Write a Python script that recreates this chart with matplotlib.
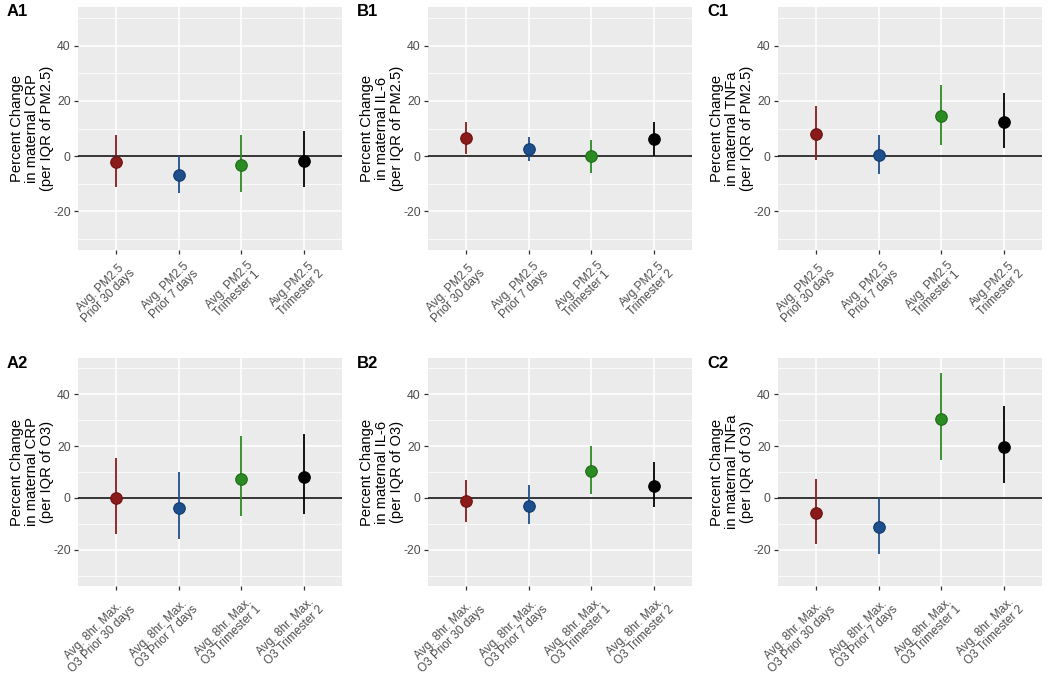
import matplotlib
matplotlib.use("Agg")
import matplotlib.pyplot as plt
import matplotlib.transforms as mtransforms
import numpy as np

plt.rcParams['font.family'] = ['Liberation Sans', 'DejaVu Sans']

# ---- data ----
colors = ["#8B1A1A", "#1C4F8C", "#2A8B22", "#000000"]
edge_colors = ["#6B1010", "#123A6A", "#1E6A18", "#000000"]

pm_labels = ["Avg. PM2.5\nPrior 30 days", "Avg. PM2.5\nPrior 7 days",
             "Avg. PM2.5\nTrimester 1", "Avg.PM2.5\nTrimester 2"]
o3_labels = ["Avg. 8hr. Max.\nO3 Prior 30 days", "Avg. 8hr. Max.\nO3 Prior 7 days",
             "Avg. 8hr. Max.\nO3 Trimester 1", "Avg. 8hr. Max.\nO3 Trimester 2"]

# A1 CRP per PM2.5
a1_est = [-2.2, -6.9, -3.3, -1.7]
a1_lo = [-11.3, -13.3, -13.1, -11.3]
a1_hi = [7.8, 0.0, 7.5, 9.0]
# B1 IL-6 per PM2.5
b1_est = [6.5, 2.4, -0.1, 6.2]
b1_lo = [0.8, -1.9, -6.1, 0.0]
b1_hi = [12.4, 6.8, 5.9, 12.5]
# C1 TNFa per PM2.5
c1_est = [8.0, 0.5, 14.7, 12.5]
c1_lo = [-1.3, -6.3, 4.2, 2.8]
c1_hi = [18.1, 7.5, 25.8, 23.0]
# A2 CRP per O3
a2_est = [-0.1, -3.9, 7.3, 8.0]
a2_lo = [-13.8, -15.9, -7.1, -6.2]
a2_hi = [15.4, 9.9, 23.9, 24.5]
# B2 IL-6 per O3
b2_est = [-1.3, -3.1, 10.3, 4.7]
b2_lo = [-9.2, -10.1, 1.7, -3.4]
b2_hi = [7.0, 4.8, 19.9, 13.8]
# C2 TNFa per O3
c2_est = [-6.0, -11.3, 30.3, 19.6]
c2_lo = [-17.7, -21.8, 14.5, 5.6]
c2_hi = [7.3, 0.0, 48.4, 35.4]

panels = [
    ("A1", "Percent Change\nin maternal CRP\n(per IQR of PM2.5)", pm_labels, a1_est, a1_lo, a1_hi),
    ("B1", "Percent Change\nin maternal IL-6\n(per IQR of PM2.5)", pm_labels, b1_est, b1_lo, b1_hi),
    ("C1", "Percent Change\nin maternal TNFa\n(per IQR of PM2.5)", pm_labels, c1_est, c1_lo, c1_hi),
    ("A2", "Percent Change\nin maternal CRP\n(per IQR of O3)", o3_labels, a2_est, a2_lo, a2_hi),
    ("B2", "Percent Change\nin maternal IL-6\n(per IQR of O3)", o3_labels, b2_est, b2_lo, b2_hi),
    ("C2", "Percent Change\nin maternal TNFa\n(per IQR of O3)", o3_labels, c2_est, c2_lo, c2_hi),
]

W, H = 1050, 678
fig = plt.figure(figsize=(W / 100, H / 100), dpi=100)

col_left = [78, 428, 778]
col_w = 264
row_top = [7, 358]
row_bot = [250, 586]

for i, (tag, ylab, xl, est, lo, hi) in enumerate(panels):
    r, c = divmod(i, 3)
    left = col_left[c]
    top = row_top[r]
    bot = row_bot[r]
    ax = fig.add_axes([left / W, 1 - bot / H, col_w / W, (bot - top) / H])
    ax.set_facecolor("#EBEBEB")
    for s in ax.spines.values():
        s.set_visible(False)
    x = np.arange(1, 5)
    ax.set_xlim(0.4, 4.6)
    ax.set_ylim(-34, 54)
    ax.set_yticks([-20, 0, 20, 40])
    ax.set_yticks([-30, -10, 10, 30, 50], minor=True)
    ax.set_xticks(x)
    ax.grid(True, which='major', color='white', linewidth=1.1, zorder=0)
    ax.grid(True, which='minor', axis='y', color='white', linewidth=0.55, zorder=0)
    ax.set_axisbelow(True)
    ax.tick_params(axis='both', which='major', length=3.2, width=0.9, color='#333333',
                   labelsize=8.8, labelcolor='#4D4D4D', pad=2)
    ax.tick_params(axis='y', which='minor', length=0)
    ax.set_yticklabels(["-20", "0", "20", "40"])
    ax.axhline(0, color='black', linewidth=1.1, zorder=2)
    for j in range(4):
        ax.vlines(x[j], lo[j], hi[j], color=colors[j], linewidth=1.3, zorder=3)
        ax.plot(x[j], est[j], 'o', color=colors[j], markersize=8.3,
                markeredgecolor=edge_colors[j], markeredgewidth=0.8, zorder=4)
    ax.set_xticklabels(xl, rotation=45, ha='right', va='top', rotation_mode='anchor',
                       multialignment='center', fontsize=8.6, color='#4D4D4D',
                       linespacing=0.98)
    off = mtransforms.ScaledTranslation(5 / 100, -2 / 100, fig.dpi_scale_trans)
    for lab in ax.get_xticklabels():
        lab.set_transform(lab.get_transform() + off)
    ax.set_ylabel(ylab, fontsize=10.6, color='black', linespacing=1.08)
    ax.yaxis.label.set_va('center')
    ax.yaxis.set_label_coords((32 - 78) / col_w, 0.5)
    fig.text((left - 71) / W, 1 - (top + 5) / H, tag, fontsize=12, fontweight='bold',
             ha='left', va='center')

fig.savefig("out.png", dpi=100)
